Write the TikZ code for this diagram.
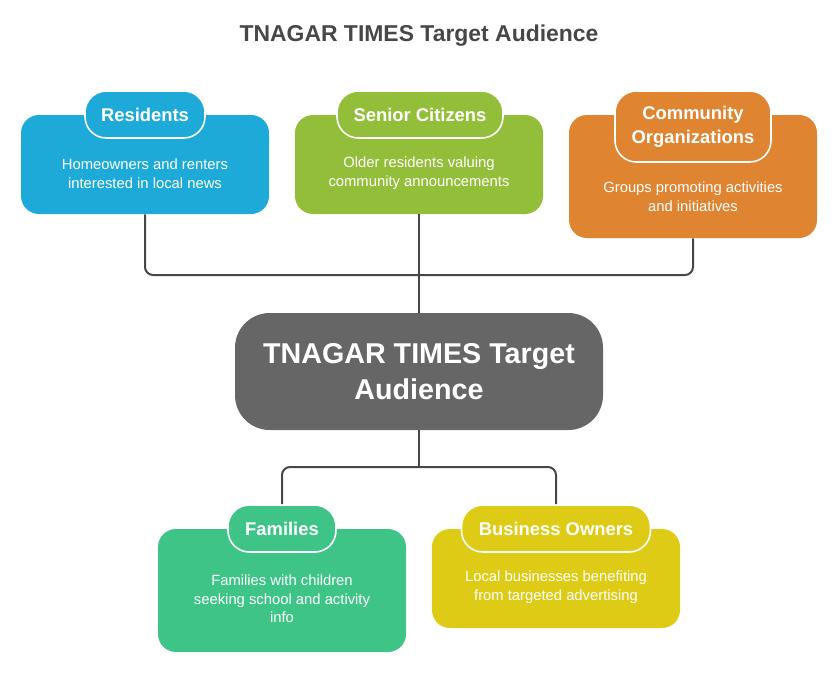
\documentclass[tikz,border=0pt]{standalone}
\usepackage{fontspec}
\setmainfont{Liberation Sans}
\definecolor{resblue}{HTML}{1EAAD9}
\definecolor{sengreen}{HTML}{93BE3A}
\definecolor{comorange}{HTML}{DF8431}
\definecolor{ctrgray}{HTML}{666666}
\definecolor{famgreen}{HTML}{3EC486}
\definecolor{busyellow}{HTML}{DECB16}
\definecolor{linegray}{HTML}{474747}
\tikzset{
  mainbox/.style={rounded corners=13.5pt, minimum width=186pt, inner sep=0pt},
  pill/.style={draw=white, line width=1.2pt, rounded corners=16pt, inner sep=0pt,
    text=white, font=\fontsize{13.8}{18}\selectfont\bfseries, align=center},
  desc/.style={text=white, font=\fontsize{11.1}{14}\selectfont, align=center},
  conn/.style={draw=linegray, line width=1.5pt, rounded corners=6pt}
}
\begin{document}
\begin{tikzpicture}[x=0.75pt, y=-0.75pt]
  \useasboundingbox (0,0) rectangle (838,675);

  \node[text=linegray, font=\fontsize{17.2}{20}\selectfont\bfseries] (title) at (419,36) {TNAGAR TIMES Target Audience};

  % top row
  \node[mainbox, fill=resblue, minimum height=74.25pt] (res) at (145,164.5) {};
  \node[mainbox, fill=sengreen, minimum height=74.25pt] (sen) at (419,164.5) {};
  \node[mainbox, fill=comorange, minimum height=92.25pt] (com) at (693,176.5) {};

  \node[pill, fill=resblue, minimum width=90pt, minimum height=35.25pt] (respill) at (145,114.5) {Residents};
  \node[pill, fill=sengreen, minimum width=124.5pt, minimum height=35.25pt] (senpill) at (420,114.5) {Senior Citizens};
  \node[pill, fill=comorange, minimum width=117pt, minimum height=53.25pt] (compill) at (693,126.5) {Community\\Organizations};

  \node[desc] (resdesc) at (145,173.5) {Homeowners and renters\\interested in local news};
  \node[desc] (sendesc) at (419,173.5) {Older residents valuing\\community announcements};
  \node[desc] (comdesc) at (693,197) {Groups promoting activities\\and initiatives};

  % centre
  \node[fill=ctrgray, rounded corners=26pt, minimum width=276pt, minimum height=87.75pt,
    text=white, font=\fontsize{21.5}{26.5}\selectfont\bfseries, align=center] (ctr) at (419,371.5)
    {TNAGAR TIMES Target\\Audience};

  % bottom row
  \node[mainbox, fill=famgreen, minimum height=92.25pt] (fam) at (282,590.5) {};
  \node[mainbox, fill=busyellow, minimum height=74.25pt] (bus) at (556,578.5) {};

  \node[pill, fill=famgreen, minimum width=81pt, minimum height=35.25pt] (fampill) at (282,528.5) {Families};
  \node[pill, fill=busyellow, minimum width=141.75pt, minimum height=35.25pt] (buspill) at (556,528.5) {Business Owners};

  \node[desc] (famdesc) at (282,599) {Families with children\\seeking school and activity\\info};
  \node[desc] (busdesc) at (556,587) {Local businesses benefiting\\from targeted advertising};

  % connectors
  \coordinate (jtop) at (419,275);
  \coordinate (jbot) at (419,467);
  \draw[conn] (res.south) |- (jtop) -| (com.south);
  \draw[conn] (sen.south) -- (ctr.north);
  \draw[conn] (ctr.south) -- (jbot);
  \draw[conn] (fampill.north) |- (jbot) -| (buspill.north);

\end{tikzpicture}
\end{document}
